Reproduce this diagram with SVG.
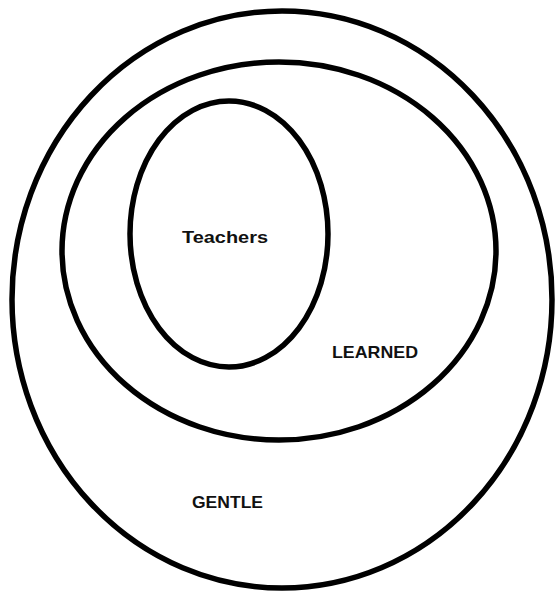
<svg xmlns="http://www.w3.org/2000/svg" width="557" height="592" viewBox="0 0 557 592">
<style>
.e{fill:none;stroke:#000;stroke-width:5.5}
.t{font-family:"Liberation Sans",Arial,sans-serif;font-weight:bold;font-size:16.5px;fill:#111}
</style>
<rect width="557" height="592" fill="#fff"/>
<g id="gentle"><ellipse class="e" cx="282" cy="299.5" rx="270" ry="288.5"/><text class="t" x="192" y="508" textLength="71" lengthAdjust="spacingAndGlyphs">GENTLE</text></g>
<g id="learned"><ellipse class="e" cx="279" cy="251" rx="217" ry="189"/><text class="t" x="332" y="358" textLength="86" lengthAdjust="spacingAndGlyphs">LEARNED</text></g>
<g id="teachers"><ellipse class="e" cx="229" cy="234" rx="99" ry="133"/><text class="t" x="182" y="243" textLength="86" lengthAdjust="spacingAndGlyphs">Teachers</text></g>
<g id="connectors"/>
</svg>
